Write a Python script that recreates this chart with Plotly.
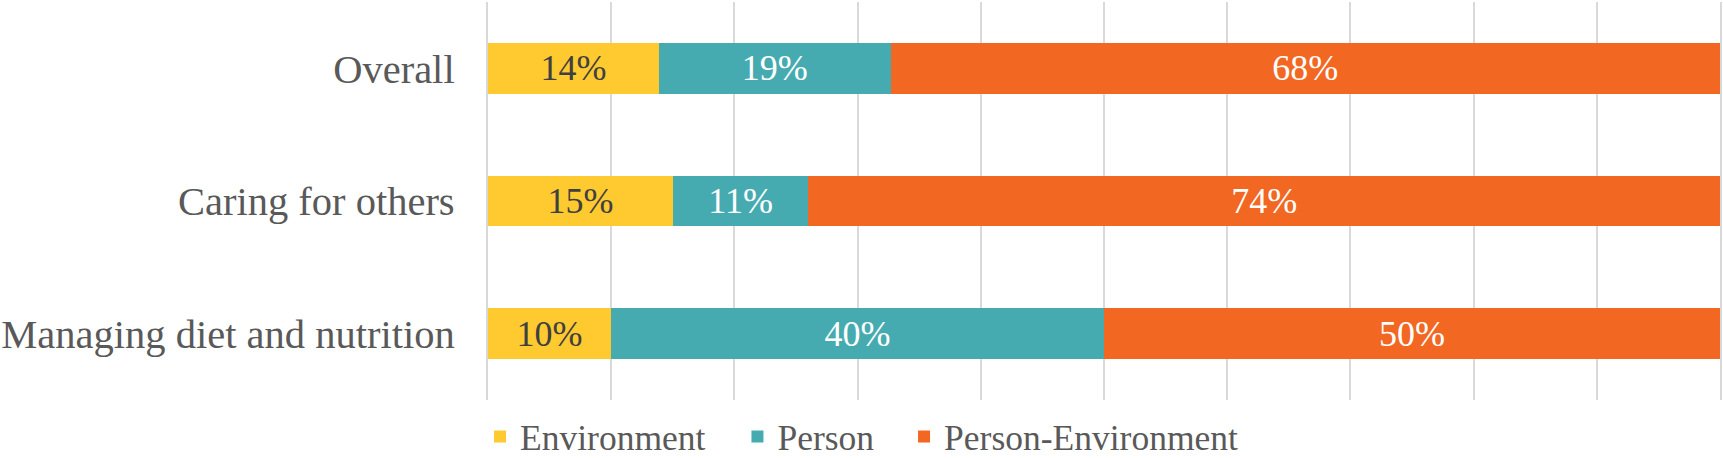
import plotly.graph_objects as go

categories = ["Managing diet and nutrition", "Caring for others", "Overall"]
environment = [10, 15, 14]
person = [40, 11, 19]
person_env = [50, 74, 68]

series = [
    ("Environment", environment, "#FFCA30", "#404040", "legend", 0.2786),
    ("Person", person, "#46ABB1", "#FFFFFF", "legend2", 0.4280),
    ("Person-Environment", person_env, "#F26722", "#FFFFFF", "legend3", 0.5247),
]

SERIF = "Liberation Serif"

fig = go.Figure()
legends = {}
for name, vals, color, tcolor, leg, lx in series:
    fig.add_trace(go.Bar(
        y=categories, x=vals, name=name, orientation="h",
        marker=dict(color=color, line=dict(width=0)),
        text=[f"{v}%" for v in vals], textposition="inside",
        insidetextanchor="middle",
        textfont=dict(family=SERIF, size=36, color=tcolor),
        constraintext="none", legend=leg,
    ))
    legends[leg] = dict(orientation="h", x=lx, xref="container", xanchor="left",
                        y=0.046, yref="container", yanchor="middle",
                        bgcolor="rgba(0,0,0,0)",
                        font=dict(family=SERIF, size=35.5, color="#595959"),
                        itemwidth=30)

fig.update_layout(
    barmode="stack", barnorm="percent", bargap=0.616,
    width=1723, height=458,
    margin=dict(l=488, r=3, t=2, b=58, autoexpand=False),
    paper_bgcolor="white", plot_bgcolor="white",
    font=dict(family=SERIF, size=35, color="#595959"),
    showlegend=True,
    xaxis=dict(range=[0, 100], dtick=10, showgrid=True, gridcolor="#D9D9D9",
               gridwidth=2, showticklabels=False, zeroline=False, showline=False,
               fixedrange=True, automargin=False),
    yaxis=dict(showgrid=False, zeroline=False, showline=True, mirror=True,
               linecolor="#D9D9D9", linewidth=2, ticks="", automargin=False,
               ticksuffix="  ", ticklabelstandoff=3, fixedrange=True,
               tickfont=dict(family=SERIF, size=40.5, color="#595959")),
    **legends,
)

fig.write_html("out.html", config={"displayModeBar": False},
               post_script="document.body.style.margin='0';document.body.style.overflow='hidden';")
